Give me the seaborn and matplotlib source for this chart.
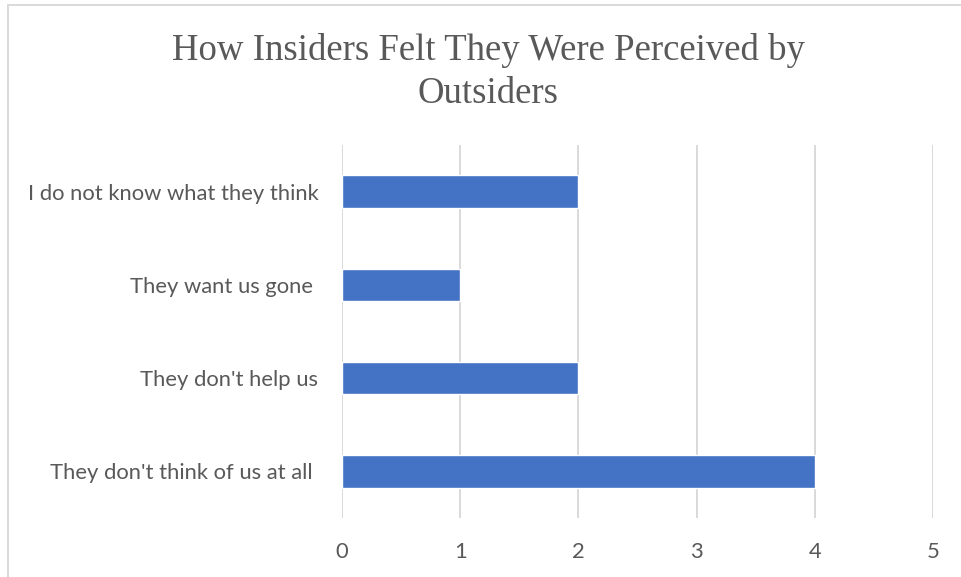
import matplotlib
matplotlib.use("Agg")
import matplotlib.pyplot as plt
import seaborn as sns
import pandas as pd

categories = [
    "I do not know what they think",
    "They want us gone ",
    "They don't help us",
    "They don't think of us at all ",
]
counts = [2, 1, 2, 4]
xticks = [0, 1, 2, 3, 4, 5]

sns.set_theme(style="white")
plt.rcParams["font.family"] = ["Lato", "DejaVu Sans"]

df = pd.DataFrame({"response": categories, "count": counts})

fig = plt.figure(figsize=(9.61, 5.77), dpi=100)
ax = fig.add_axes([342 / 961, 1 - 518 / 577, (933 - 342) / 961, (518 - 145) / 577])

# light frame around the chart area
fig.add_artist(plt.Rectangle((8 / 961, -0.05), 1.2, 1 - 5 / 577 + 0.05,
                             transform=fig.transFigure, fill=False,
                             edgecolor="#d9d9d9", linewidth=1.4))

sns.barplot(data=df, x="count", y="response", orient="h", color="#4472C4",
            saturation=1, width=0.35, ax=ax, zorder=3)

ax.set_xlim(0, 5)
ax.set_ylim(3.5, -0.5)
ax.set_xticks(xticks)
ax.set_xticklabels([str(t) for t in xticks])
ax.grid(axis="x", color="#d9d9d9", linewidth=1.4, zorder=0)
ax.grid(axis="y", visible=False)
for s in ax.spines.values():
    s.set_visible(False)
ax.tick_params(axis="both", length=0, colors="#595959", labelsize=15.8)
ax.tick_params(axis="x", pad=17)
ax.tick_params(axis="y", pad=17)
ax.set_xlabel("")
ax.set_ylabel("")

fig.text(488 / 961, 1 - 72 / 577, "How Insiders Felt They Were Perceived by\nOutsiders",
         ha="center", va="center", family=["Liberation Serif"], fontsize=26.5,
         color="#595959", linespacing=1.3)

fig.savefig("out.png", dpi=100, facecolor="white")
